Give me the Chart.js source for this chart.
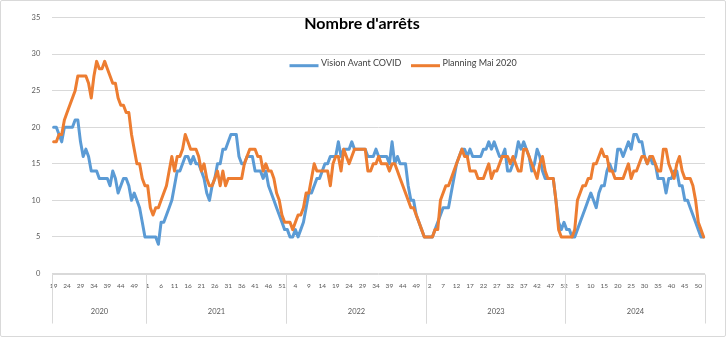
<!DOCTYPE html>
<html>
<head>
<meta charset="utf-8">
<title>Nombre d'arrêts</title>
<script src="https://cdn.jsdelivr.net/npm/chart.js@4/dist/chart.umd.min.js"></script>
<style>
    body { margin: 0; background: #fff; }
    #cadre { width: 724px; height: 335px; border: 1px solid #d9d9d9; border-radius: 2px; }
</style>
</head>
<body>
<div id="cadre"><canvas id="arretsChart" width="724" height="335"></canvas></div>
<script>
// Données : années, semaines et nombre d'arrêts par semaine

const annees = ['2020', '2021', '2022', '2023', '2024'];
const premiereSemaine = [19, 1, 1, 1, 1];
const derniereSemaine = [53, 52, 52, 52, 52];

// Vision Avant COVID
const vision2020 = [20,20,19,18,20,20,20,20,21,21,18,16,17,16,14,14,14,13,13,13,13,12,14,13,11,12,13,13,12,10,11,10,9,7,5];
const vision2021 = [5,5,5,5,4,7,7,8,9,10,12,14,14,15,16,16,15,16,15,15,14,13,11,10,12,13,15,15,17,17,18,19,19,19,16,15,15,16,16,16,14,14,14,13,14,12,11,10,9,8,7,6];
const vision2022 = [6,5,5,6,5,6,7,9,11,11,12,13,13,14,15,15,16,16,16,18,16,17,17,17,18,17,17,17,17,17,16,16,16,17,16,16,16,16,15,18,15,16,15,15,15,12,10,10,8,7,6,5];
const vision2023 = [5,5,5,6,7,8,9,9,9,11,13,15,16,17,17,16,17,16,16,16,16,17,17,18,17,18,17,16,16,17,14,14,15,16,18,17,18,17,16,14,15,17,16,14,13,13,13,13,10,7,6,7];
const vision2024 = [6,6,5,5,6,7,8,9,10,11,10,9,11,12,12,14,15,14,14,17,17,16,17,18,17,19,19,18,18,16,15,16,15,15,13,13,13,11,13,13,14,14,12,12,10,10,9,8,7,6,5,5];

// Planning Mai 2020
const planning2020 = [18,18,19,19,21,22,23,24,25,27,27,27,27,26,24,27,29,28,28,29,28,27,26,26,24,23,23,22,22,19,17,15,15,13,12];
const planning2021 = [12,9,8,9,9,10,11,12,14,16,14,16,16,17,19,18,17,17,17,16,14,15,13,12,12,13,14,12,14,12,13,13,13,13,13,13,15,16,17,17,17,16,16,14,15,14,14,13,11,10,8,7];
const planning2022 = [7,7,6,7,8,8,9,11,11,13,15,14,14,14,14,14,12,15,16,16,14,17,16,15,16,17,17,17,17,17,14,14,15,15,16,15,15,15,14,15,15,14,13,12,11,10,9,9,8,7,6,5];
const planning2023 = [5,5,5,6,6,10,11,12,12,13,14,15,16,17,16,16,14,14,14,13,13,13,14,15,13,14,14,15,16,16,16,15,16,15,14,14,17,17,16,15,14,13,15,16,14,13,13,13,10,6,5,5];
const planning2024 = [5,5,5,6,10,11,12,12,13,13,15,15,16,17,16,16,14,14,13,13,13,13,14,15,13,14,14,15,16,16,15,16,16,15,14,14,17,17,15,14,13,15,16,14,13,13,13,12,10,7,6,5];

const semaines = [];
annees.forEach(function(annee, k) {
    for (let s = premiereSemaine[k]; s <= derniereSemaine[k]; s++) {
        semaines.push(String(s));
    }
});
const vision = [].concat(vision2020, vision2021, vision2022, vision2023, vision2024);
const planning = [].concat(planning2020, planning2021, planning2022, planning2023, planning2024);

// Titre, légende, axe des années (comme dans Excel)
const decorGraphique = {
    id: 'decorGraphique',
    afterDraw: function(chart) {
        const ctx = chart.ctx;
        const axeX = chart.scales.x;
        const zone = chart.chartArea;
        const pas = axeX.getPixelForValue(1) - axeX.getPixelForValue(0);
        const bas = Math.round(zone.bottom) + 0.5;

        ctx.save();
        ctx.strokeStyle = '#d9d9d9';
        ctx.lineWidth = 1;
        ctx.beginPath();
        ctx.moveTo(zone.left, bas);
        ctx.lineTo(zone.right, bas);
        ctx.stroke();

        ctx.font = '7.5px Lato';
        ctx.fillStyle = '#595959';
        ctx.textAlign = 'center';
        ctx.textBaseline = 'middle';
        let debut = 0;
        annees.forEach(function(annee, k) {
            const nb = derniereSemaine[k] - premiereSemaine[k] + 1;
            const gauche = Math.round(axeX.getPixelForValue(debut) - pas / 2) + 0.5;
            const droite = Math.round(axeX.getPixelForValue(debut + nb - 1) + pas / 2) + 0.5;
            ctx.beginPath();
            ctx.moveTo(gauche, bas);
            ctx.lineTo(gauche, bas + 49);
            ctx.moveTo(droite, bas);
            ctx.lineTo(droite, bas + 49);
            ctx.stroke();
            ctx.fillText(annee, (gauche + droite) / 2, zone.bottom + 38.5);
            debut += nb;
        });

        // titre
        ctx.font = 'bold 16px Lato';
        ctx.fillStyle = '#000';
        ctx.fillText("Nombre d'arrêts", 361, 22.5);

        // légende
        ctx.font = '9px Lato';
        ctx.fillStyle = '#404040';
        ctx.textAlign = 'left';
        ctx.lineWidth = 3;
        chart.data.datasets.forEach(function(ds, k) {
            const x0 = k === 0 ? 288.5 : 410;
            ctx.strokeStyle = ds.borderColor;
            ctx.beginPath();
            ctx.moveTo(x0, 64.7);
            ctx.lineTo(x0 + 29, 64.7);
            ctx.stroke();
            ctx.fillText(ds.label, x0 + 31.5, 62);
        });
        ctx.restore();
    }
};

Chart.defaults.font.family = 'Lato';
Chart.defaults.color = '#595959';

const ctx = document.getElementById('arretsChart').getContext('2d');
const arretsChart = new Chart(ctx, {
    type: 'line',
    data: {
        labels: semaines,
        datasets: [{
            label: 'Vision Avant COVID',
            data: vision,
            borderColor: '#5B9BD5',
            borderWidth: 3,
            pointRadius: 0,
            borderJoinStyle: 'round',
            borderCapStyle: 'round',
            order: 1
        }, {
            label: 'Planning Mai 2020',
            data: planning,
            borderColor: '#ED7D31',
            borderWidth: 3,
            pointRadius: 0,
            borderJoinStyle: 'round',
            borderCapStyle: 'round',
            order: 0
        }]
    },
    options: {
        responsive: false,
        animation: false,
        events: [],
        layout: { padding: { top: 14, right: 20, left: 0, bottom: 0 } },
        scales: {
            x: {
                offset: true,
                grid: { display: false, drawTicks: false },
                border: { display: false },
                ticks: {
                    autoSkip: false,
                    maxRotation: 0,
                    padding: 9,
                    font: { size: 6.5 },
                    callback: function(valeur, index) {
                        return index % 5 === 0 ? semaines[index] : '';
                    }
                },
                afterFit: function(echelle) { echelle.height = 62.5; }
            },
            y: {
                min: 0,
                max: 35,
                ticks: { stepSize: 5, padding: 12, font: { size: 7.5 } },
                grid: { color: '#d9d9d9', drawTicks: false },
                border: { display: false },
                afterFit: function(echelle) { echelle.width = 51.3; }
            }
        },
        plugins: {
            legend: { display: false },
            title: { display: false },
            tooltip: { enabled: false }
        }
    },
    plugins: [decorGraphique]
});
</script>
</body>
</html>
